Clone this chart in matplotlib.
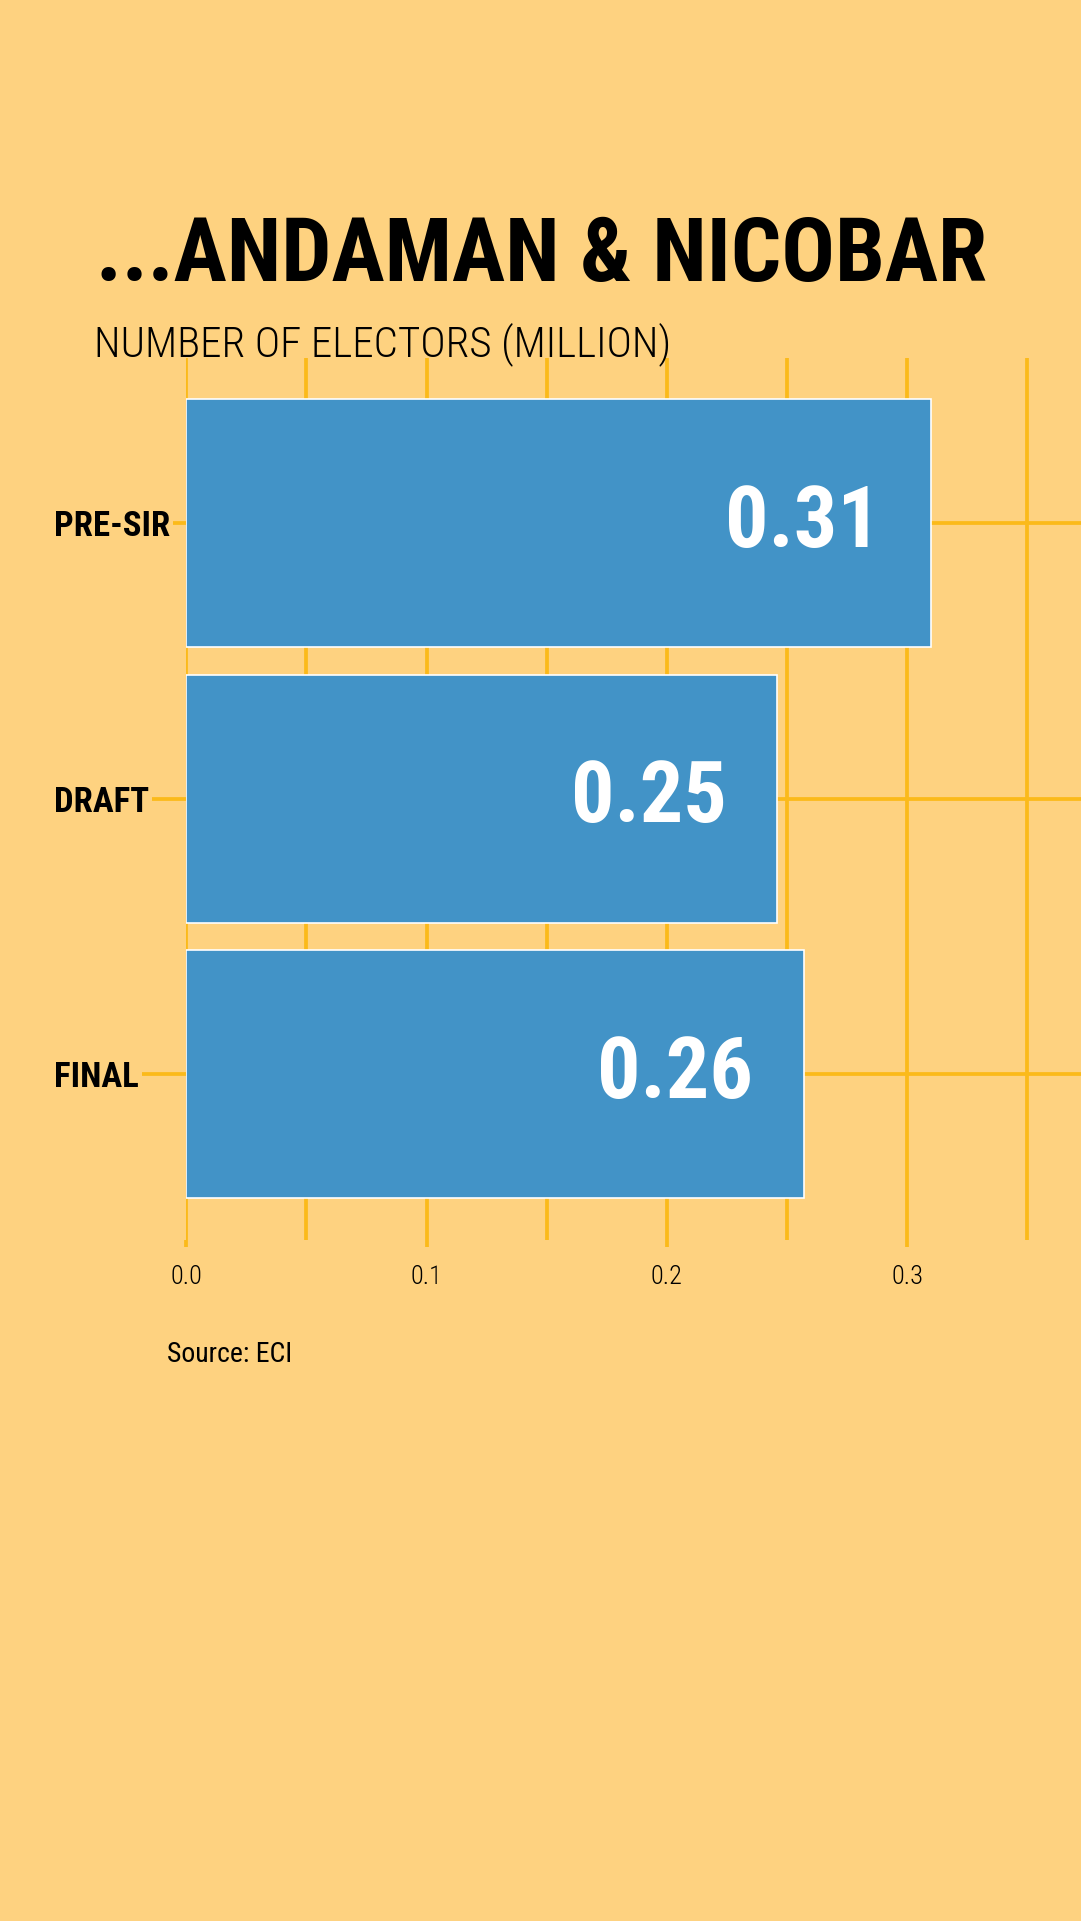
import matplotlib

matplotlib.use("Agg")
import matplotlib.pyplot as plt  # noqa: E402
from matplotlib import font_manager  # noqa: E402
from matplotlib.ticker import MultipleLocator  # noqa: E402

CATEGORIES = ["PRE-SIR", "DRAFT", "FINAL"]
ELECTORS = [0.31, 0.246, 0.257]
VALUE_LABELS = ["0.31", "0.25", "0.26"]
XTICKS = [0.0, 0.1, 0.2, 0.3]
TITLE = "...ANDAMAN & NICOBAR"
SUBTITLE = "NUMBER OF ELECTORS (MILLION)"
SOURCE = "Source: ECI"

BG = "#FED280"
BAR = "#4293C7"
GRID = "#FBBA1A"

# pick a narrow family if one is around
names = {f.name for f in font_manager.fontManager.ttflist}
FONT = "DejaVu Sans"
for cand in ["Roboto Condensed", "Open Sans Condensed", "Liberation Sans Narrow"]:
    if cand in names:
        FONT = cand
        break

fig = plt.figure(figsize=(10.81, 19.21), dpi=100)
fig.patch.set_facecolor(BG)

ax = fig.add_axes([0.1723, 0.3546, 1 - 0.1723, 0.4592])
ax.set_facecolor(BG)

ypos = list(range(len(CATEGORIES)))
ax.barh(ypos, ELECTORS, height=0.9, color=BAR, edgecolor="white", linewidth=1.2, zorder=3)

for y, v, lab in zip(ypos, ELECTORS, VALUE_LABELS):
    ax.text(v - 0.021, y, lab, ha="right", va="center", color="white",
            fontsize=62, fontweight="bold", family=FONT, zorder=4)

ax.set_xlim(0, 0.3724)
ax.set_ylim(2.6, -0.6)

ax.xaxis.set_major_locator(MultipleLocator(0.1))
ax.xaxis.set_minor_locator(MultipleLocator(0.05))
ax.set_xticks(XTICKS)
ax.set_xticklabels([f"{t:.1f}" for t in XTICKS], family=FONT, fontsize=19, fontweight="light")
ax.set_yticks(ypos)
ax.set_yticklabels(CATEGORIES, family=FONT, fontsize=25, fontweight="bold", ha="left")
for lbl in ax.get_yticklabels():
    lbl.set_bbox(dict(facecolor=BG, edgecolor="none", pad=2))

ax.tick_params(axis="x", which="major", length=5, width=2.7, color=GRID, pad=13)
ax.tick_params(axis="x", which="minor", length=0)
ax.tick_params(axis="y", length=95, width=2.7, color=GRID, pad=0)

ax.grid(True, which="both", axis="x", color=GRID, linewidth=2.7, zorder=1)
ax.grid(True, which="major", axis="y", color=GRID, linewidth=2.7, zorder=1)
ax.set_axisbelow(True)
for s in ax.spines.values():
    s.set_visible(False)

fig.text(0.0884, 0.8538, TITLE, ha="left", va="baseline", fontsize=64,
         fontweight="heavy", family=FONT, color="black")
fig.text(0.0873, 0.8145, SUBTITLE, ha="left", va="baseline", fontsize=31,
         fontweight="light", family=FONT, color="black")
fig.text(0.1542, 0.2948, SOURCE, ha="left", va="center", fontsize=20,
         family=FONT, color="black")

fig.savefig("out.png", dpi=100, facecolor=BG)
